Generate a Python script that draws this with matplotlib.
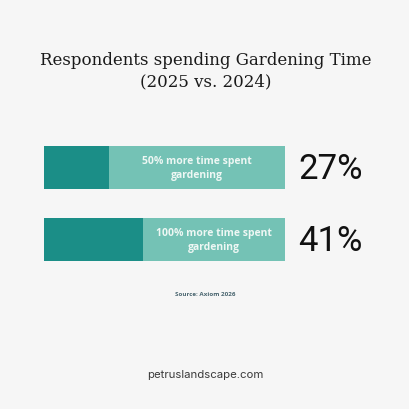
import matplotlib
matplotlib.use("Agg")
import matplotlib.pyplot as plt

categories = ["50% more time spent\ngardening", "100% more time spent\ngardening"]
values = [27, 41]
value_labels = ["27%", "41%"]
title = "Respondents spending Gardening Time\n(2025 vs. 2024)"
source = "Source: Axiom 2026"
footer = "petruslandscape.com"

bg = "#f6f6f6"
dark = "#1b8e87"
light = "#74c2b5"

fig = plt.figure(figsize=(4.1, 4.1), dpi=100, facecolor=bg)

# background axes in pixel coords for texts
bg_ax = fig.add_axes([0, 0, 1, 1])
bg_ax.set_xlim(0, 410)
bg_ax.set_ylim(410, 0)
bg_ax.set_axis_off()
bg_ax.set_facecolor(bg)

bg_ax.text(206, 71, title, ha="center", va="center", fontsize=12,
           family="DejaVu Serif", color="#1a1a1a", linespacing=1.3)
bg_ax.text(205, 295, source, ha="center", va="center", fontsize=4.5,
           family="Open Sans", fontweight="bold", color="#4a6670")
bg_ax.text(205, 375, footer, ha="center", va="center", fontsize=8.2,
           family="Inter", color="#3a3a3a")

# bar axes: x in percent
ax = fig.add_axes([44 / 410, 1 - 262 / 410, 241 / 410, 115 / 410])
ax.set_facecolor("none")
h = 43 / 72
pad = h / 2
ax.set_xlim(0, 100)
ax.set_ylim(len(values) - 1 + pad, -pad)
ax.set_axis_off()

ys = list(range(len(values)))
ax.barh(ys, [100] * len(values), height=h, color=light, linewidth=0)
ax.barh(ys, values, height=h, color=dark, linewidth=0)

for y, v, cat, lab in zip(ys, values, categories, value_labels):
    ax.text((v + 100) / 2, y, cat, ha="center", va="center", fontsize=7.5,
            family="Open Sans", fontweight="bold", color="#eef7f4",
            linespacing=1.3)
    ax.text(105.5, y + 0.02, lab, ha="left", va="center", fontsize=25,
            family="Roboto", color="#111111", clip_on=False)

fig.savefig("out.png", dpi=100, facecolor=bg)
